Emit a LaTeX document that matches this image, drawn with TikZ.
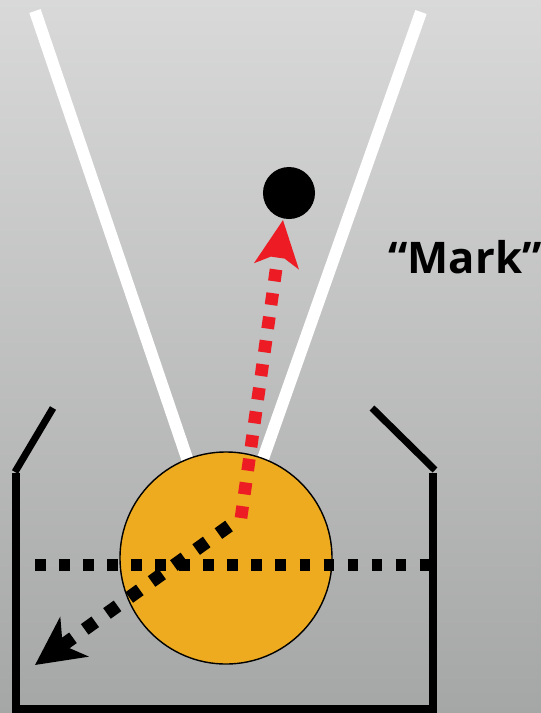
\documentclass[tikz,border=0pt]{standalone}
\usepackage{fontspec}
\setsansfont{Open Sans}
\usetikzlibrary{arrows.meta}
\definecolor{bgtop}{RGB}{216,217,216}
\definecolor{bgbottom}{RGB}{165,166,166}
\definecolor{ballorange}{RGB}{238,171,31}
\definecolor{markred}{RGB}{237,28,36}

\begin{document}
\begin{tikzpicture}[x=0.025cm, y=-0.025cm,
  wall/.style={line width=5pt, black},
  beam/.style={line width=8.5pt, white},
  ball/.style={circle, draw=black, line width=1pt, fill=ballorange,
               minimum size=5.3cm, inner sep=0pt},
  dot/.style={circle, fill=black, minimum size=1.3cm, inner sep=0pt},
  level/.style={line width=8.5pt, black, dash pattern=on 7.5pt off 9.6pt},
  redpath/.style={-{Stealth[length=1.15cm, width=1.1cm, inset=0.3cm]},
                  line width=9pt, markred, dash pattern=on 8.5pt off 8.5pt},
  blackpath/.style={-{Stealth[length=1.2cm, width=1.2cm, inset=0.35cm]},
                    line width=9.25pt, black, dash pattern=on 9.25pt off 10.25pt},
  lbl/.style={font=\sffamily\bfseries\fontsize{31}{36}\selectfont, anchor=base},
]
  \useasboundingbox (0,0) rectangle (541,713);
  \shade[top color=bgtop, bottom color=bgbottom] (0,0) rectangle (541,713);

  %% ---- guide lines ----
  \draw[beam] (35,11) -- (191,470);
  \draw[beam] (421,12) -- (259,470);

  %% ---- container ----
  \draw[wall] (15,472) -- (53,408);
  \draw[wall] (435,470) -- (372,408);
  \draw[wall] (16,473) -- (16,709) -- (433,709) -- (433,473);

  %% ---- ball and target ----
  \node[ball] (ball) at (226,558) {};
  \node[dot] (target) at (289,193) {};
  \node[lbl] (mark) at (465,273) {“Mark”};

  %% ---- level and paths ----
  \draw[level] (35,565) -- (433,565);
  \coordinate (bend) at (241,518);
  \coordinate (redtip) at (283,220);
  \coordinate (blacktip) at (35,665);
  \draw[redpath] (bend) -- (redtip);
  \draw[blackpath] (229,526) -- (blacktip);
\end{tikzpicture}
\end{document}
